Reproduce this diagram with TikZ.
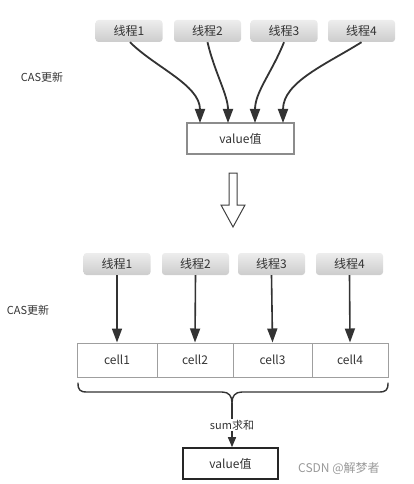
\documentclass[tikz,border=0pt]{standalone}
\usepackage{fontspec}
\setmainfont{Noto Sans CJK SC}
\usetikzlibrary{arrows.meta}
\definecolor{ink}{HTML}{333333}
\definecolor{txt}{HTML}{333333}
\tikzset{
  thread/.style={rounded corners=3pt, top color=white!93!black, bottom color=white!80!black,
    minimum width=67pt, minimum height=22pt, inner sep=0pt, font=\fontsize{12}{12}\selectfont, text=txt},
  valbox/.style={draw=#1, line width=1.6pt, fill=white, minimum height=31pt, inner sep=0pt,
    font=\fontsize{12}{12}\selectfont, text=txt},
  cellbox/.style={draw=gray!75, line width=1pt, minimum height=34pt, inner sep=0pt,
    font=\fontsize{12}{12}\selectfont, text=txt},
  bigarr/.style={-{Triangle[length=14pt,width=10pt]}, ink, line width=1.8pt},
  smallarr/.style={-{Triangle[length=14pt,width=10pt]}, ink, line width=1.6pt},
  lbl/.style={font=\fontsize{11}{11}\selectfont, text=txt, inner sep=0pt},
}
\begin{document}
\begin{tikzpicture}[x=1pt,y=-1pt]
\useasboundingbox (0,0) rectangle (413,484);
% top section
\node[thread] (t1) at (129,31) {线程1};
\node[thread] (t2) at (207.5,31) {线程2};
\node[thread] (t3) at (284,31) {线程3};
\node[thread] (t4) at (361.5,31) {线程4};
\node[lbl] (cas1) at (42,77) {CAS更新};
\node[valbox=gray!90, minimum width=107pt] (v1) at (240.5,138.5) {value值};
\coordinate (e1) at (200,123);
\coordinate (e2) at (228,123);
\coordinate (e3) at (255,123);
\coordinate (e4) at (283,123);
\draw[bigarr] (t1.south) ++(1,0) .. controls +(25,25) and (200,85) .. (e1);
\draw[bigarr] (t2.south) .. controls +(7,30) and (228,95) .. (e2);
\draw[bigarr] (t3.south) .. controls +(-12,30) and (255,92) .. (e3);
\draw[bigarr] (t4.south) .. controls +(-35,22) and (283,82) .. (e4);
% hollow arrow
\draw[line width=1pt, draw=black!75, fill=white, line join=miter]
  (229,173) -- (237,173) -- (237,205) -- (245,205) -- (233,227) -- (221,205) -- (229,205) -- cycle;
% bottom section
\node[thread] (b1) at (117,264) {线程1};
\node[thread] (b2) at (195.5,264) {线程2};
\node[thread] (b3) at (271.5,264) {线程3};
\node[thread] (b4) at (349.5,264) {线程4};
\node[lbl] (cas2) at (28,310) {CAS更新};
\node[cellbox, minimum width=80pt] (c1) at (117,360) {cell1};
\node[cellbox, minimum width=76pt] (c2) at (195,360) {cell2};
\node[cellbox, minimum width=79pt] (c3) at (272.5,360) {cell3};
\node[cellbox, minimum width=76pt] (c4) at (350,360) {cell4};
\draw[smallarr] (b1.south) -- (c1.north);
\draw[smallarr] (b2.south) -- (c2.north);
\draw[smallarr] (b3.south) -- (c3.north);
\draw[smallarr] (b4.south) -- (c4.north);
% brace
\coordinate (bt) at (232,403);
\draw[ink, line width=1.4pt, line cap=round, line join=round]
  (78,383) .. controls (78,390) and (80,392) .. (87,392) -- (222,392)
  .. controls (229,392) and (232,396) .. (bt)
  .. controls (232,396) and (235,392) .. (242,392) -- (379,392)
  .. controls (386,392) and (388,390) .. (388,383);
\node[valbox=black!85, minimum width=95pt] (v2) at (230.5,463.5) {value值};
\draw[ink, line width=1.4pt, -{Triangle[length=10pt,width=8pt]}] (bt) -- (bt |- v2.north)
  node[pos=0.5, fill=white, inner sep=1pt, font=\fontsize{11}{11}\selectfont, text=txt] (sum) {sum求和};
\node[font=\fontsize{12}{12}\selectfont, text=gray!80, inner sep=0pt, anchor=west] (wm) at (298,468) {CSDN @解梦者};
\end{tikzpicture}
\end{document}
